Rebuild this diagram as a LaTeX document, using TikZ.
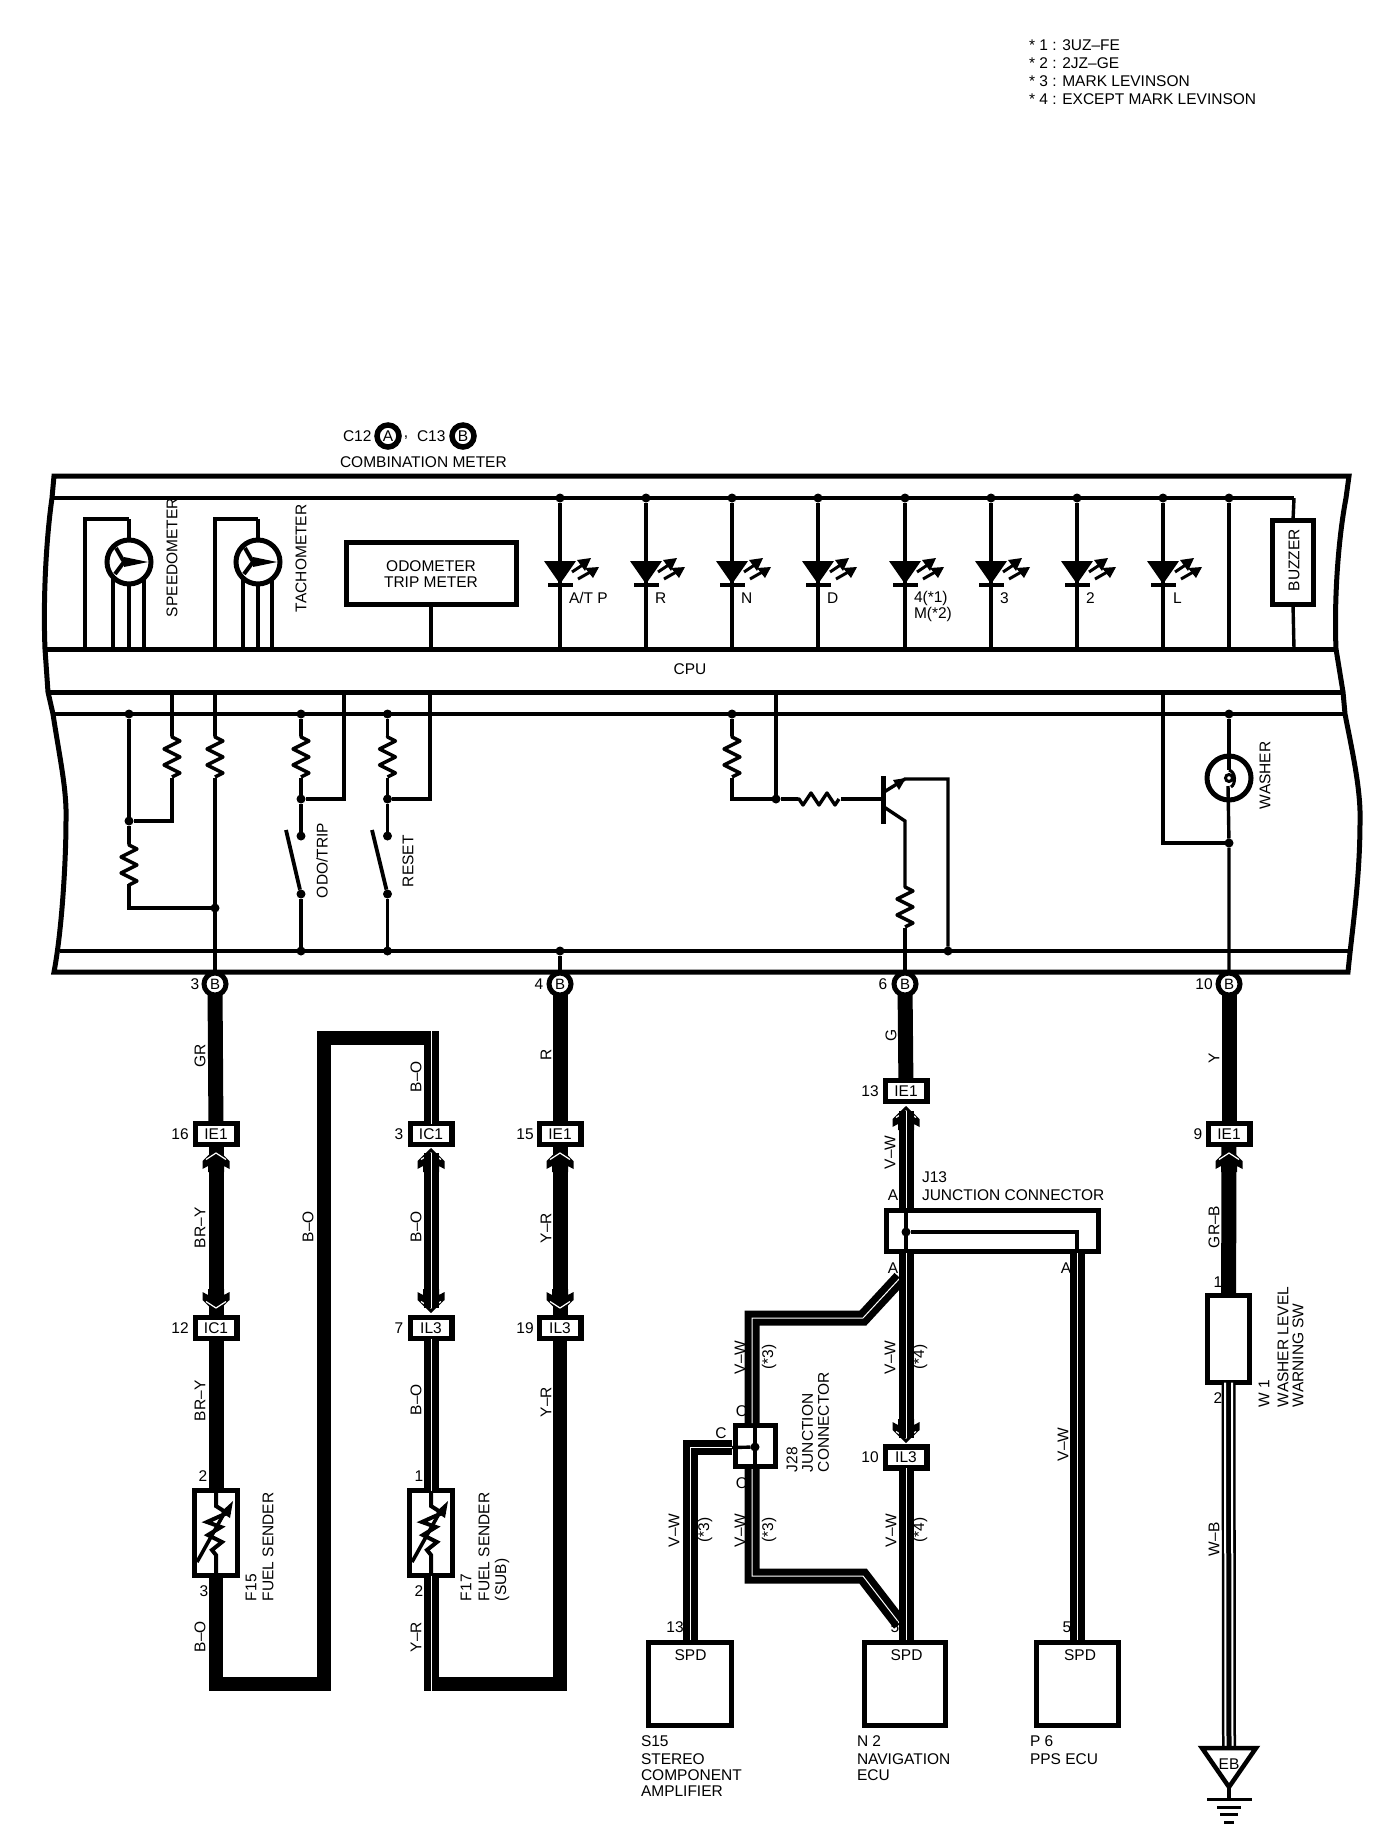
\documentclass[tikz,border=0pt]{standalone}
\usepackage{fontspec}
\setmainfont{Liberation Sans}
\usetikzlibrary{calc}
\newcounter{nn}
\tikzset{
  lab/.style={inner sep=0pt,outer sep=0pt,font=\fontsize{15.5}{17}\selectfont},
  dotn/.style={circle,fill=black,inner sep=0pt,minimum size=9pt,outer sep=0pt},
  thinw/.style={line width=3.4pt,line join=miter},
  solidw/.style={line width=15pt,line join=miter},
  dblw/.style={line width=7pt,double=white,double distance=1pt,line join=miter},
  border/.style={line width=5pt,line join=miter},
  cpubar/.style={line width=5pt},
  conn/.style={draw,fill=white,line width=5.5pt,minimum width=41.5pt,minimum height=21pt,inner sep=0pt,outer sep=0pt,font=\fontsize{15.5}{17}\selectfont},
  pinb/.style={circle,draw,fill=white,line width=5pt,minimum size=22pt,inner sep=0pt,outer sep=0pt,font=\fontsize{15}{16}\selectfont},
  thickbox/.style={draw,fill=white,line width=5pt,inner sep=0pt,outer sep=0pt,font=\fontsize{15.5}{17}\selectfont},
}
\newcommand\Tx[3]{\stepcounter{nn}\node[lab] (t\arabic{nn}) at (#1,#2) {#3};}
\newcommand\Lt[3]{\stepcounter{nn}\node[lab,anchor=west] (t\arabic{nn}) at (#1,#2) {#3};}
\newcommand\Vt[3]{\stepcounter{nn}\node[lab,rotate=90,anchor=west] (t\arabic{nn}) at (#1,#2) {#3};}
\newcommand\Vc[3]{\stepcounter{nn}\node[lab,rotate=90] (t\arabic{nn}) at (#1,#2) {#3};}
\newcommand\Resv[1]{\draw[thinw,line join=round] (#1) -- ++(0,1) -- ++(8,4) -- ++(-16,8) -- ++(16,8) -- ++(-16,8) -- ++(16,8) -- ++(-8,4);}
\newcommand\Resh[1]{\draw[thinw,line join=round] (#1) -- ++(1,0) -- ++(4,6) -- ++(8,-12) -- ++(8,12) -- ++(8,-12) -- ++(8,12) -- ++(4,-6);}
\newcommand\Led[2]{\begin{scope}[shift={(#1,#2)}]
  \fill (-16,0) -- (16,0) -- (0,23) -- cycle;
  \draw[line width=4pt] (-12,23.5) -- (13,23.5);
  \draw[line width=3pt] (12,11) -- (24,3);
  \fill (31,-3) -- (17,-1) -- (25,10) -- cycle;
  \draw[line width=3pt] (18,18) -- (32,10);
  \fill (39,6) -- (25,7) -- (33,17) -- cycle;
\end{scope}}
\newcommand\Meter[1]{\begin{scope}[shift={(#1,562)}]
  \draw[line width=5pt] (0,0) circle (22);
  \draw[line width=4pt] (-13,-14) -- (-5,0) -- (-14,12);
  \fill (-5,-5) -- (19,0) -- (-5,5) -- cycle;
\end{scope}}
\newcommand\Chev[3]{\begin{scope}[shift={(#1,#2)},yscale=#3]
  \fill (0,0) -- (13.5,13) -- (13.5,21) -- (8,18) -- (8,24) -- (-8,24) -- (-8,18) -- (-13.5,21) -- (-13.5,13) -- cycle;
  \draw[white,line width=1.2pt] (-10,11.5) -- (0,5) -- (10,11.5);
\end{scope}}
\newcommand\Sender[1]{\begin{scope}[shift={(#1,1488)}]
  \draw[line width=4pt,line join=miter] (0,2) -- (0,18) -- (11,25) -- (-9,34) -- (5,39) -- (-8,47) -- (6,54) -- (-4,62) -- (0,67) -- (0,88);
  \draw[line width=3.6pt] (-19,74) -- (10,22);
  \fill (17,13) -- (5,24) -- (14,30) -- cycle;
\end{scope}}
\begin{document}
\begin{tikzpicture}[x=1pt,y=-1pt]
\useasboundingbox (0,0) rectangle (1392,1844);
% ----- legend
\Lt{1029}{45}{* 1 : 3UZ–FE}
\Lt{1029}{63}{* 2 : 2JZ–GE}
\Lt{1029}{81}{* 3 : MARK LEVINSON}
\Lt{1029}{99}{* 4 : EXCEPT MARK LEVINSON}
% ----- title
\Lt{343}{436}{C12}
\node[pinb,line width=5.5pt,font=\fontsize{15.5}{17}\selectfont] (hA) at (388,436) {A};
\Tx{406}{438}{,}
\Lt{417}{436}{C13}
\node[pinb,line width=5.5pt,font=\fontsize{15.5}{17}\selectfont] (hB) at (463,436) {B};
\Lt{340}{462}{COMBINATION METER}
% ----- frame
\draw[border] (54,476) -- (52,498) .. controls (46,540) and (43,600) .. (45,649) -- (48,692) -- (53,714) .. controls (60,760) and (67,790) .. (66,821) .. controls (66,860) and (62,930) .. (54,972) -- (1348,972) .. controls (1352,930) and (1360,880) .. (1360,821) .. controls (1361,790) and (1352,750) .. (1345,714) -- (1343,692) -- (1336,649) .. controls (1334,600) and (1338,540) .. (1346,498) -- (1349,476) -- cycle;
% bus rails
\coordinate (tl) at (52,498); \coordinate (tr) at (1294,498);
\coordinate (cl1) at (45,649); \coordinate (cr1) at (1336,649);
\coordinate (cl2) at (48,692); \coordinate (cr2) at (1343,692);
\coordinate (ml) at (53,714); \coordinate (mr) at (1345,714);
\coordinate (bl) at (60,951); \coordinate (br) at (1352,951);
\draw[thinw] (ml) -- (mr);
\draw[thinw] (bl) -- (br);
\draw[cpubar] (cl1) -- (cr1);
\draw[cpubar] (cl2) -- (cr2);
\Tx{690}{669}{CPU}
% ----- meters
\coordinate (sm) at (129,519); \coordinate (sl) at (85,519);
\coordinate (sl0) at (85,649); \coordinate (sc) at (129,649);
\draw[thinw] (sl0) -- (sl) -- (sm);
\draw[line width=4.5pt] (sm) -- (sc);
\coordinate (a1) at (113,575); \coordinate (a2) at (113,649); \draw[thinw] (a1) -- (a2);
\coordinate (a3) at (144,575); \coordinate (a4) at (144,649); \draw[thinw] (a3) -- (a4);
\fill[white] (129,562) circle (20);
\Meter{129}
\coordinate (tm) at (258,519); \coordinate (tl2) at (215,519);
\coordinate (tl0) at (215,649); \coordinate (tc) at (258,649);
\draw[thinw] (tl0) -- (tl2) -- (tm);
\draw[line width=4.5pt] (tm) -- (tc);
\coordinate (b1) at (243,575); \coordinate (b2) at (243,649); \draw[thinw] (b1) -- (b2);
\coordinate (b3) at (272,575); \coordinate (b4) at (272,649); \draw[thinw] (b3) -- (b4);
\fill[white] (258,562) circle (20);
\Meter{258}
\Vt{172}{617}{SPEEDOMETER}
\Vt{301}{612}{TACHOMETER}
% odometer
\node[thickbox,minimum width=170pt,minimum height=62pt,align=center] (odo) at (431,573.5) {};
\Tx{431}{566}{ODOMETER}
\Tx{431}{582}{TRIP METER}
\coordinate (odoc) at (431,649);
\draw[thinw] (odo.south) -- (odoc);
% ----- LEDs
\draw[thinw] (tl) -- (tr);
\foreach \x in {560,646,732,818,905,991,1077,1163,1229}{
  \node[dotn] (u\x) at (\x,498) {};
  \coordinate (v\x) at (\x,649);
  \draw[thinw] (u\x) -- (v\x);
}
\foreach \x in {560,646,732,818,905,991,1077,1163}{\Led{\x}{561}}
\Lt{569}{598}{A/T P}
\Lt{655}{598}{R}
\Lt{741}{598}{N}
\Lt{827}{598}{D}
\Lt{914}{598}{4(*1)}
\Lt{914}{614}{M(*2)}
\Lt{1000}{598}{3}
\Lt{1086}{598}{2}
\Lt{1173}{598}{L}
% buzzer
\node[thickbox,minimum width=41pt,minimum height=84pt] (buz) at (1293,562.5) {};
\Vc{1294}{560}{BUZZER}
\coordinate (bz0) at (1294,649);
\draw[thinw] (tr) -- (buz.north);
\draw[thinw] (buz.south) -- (bz0);
% ----- pins
\foreach \x/\n in {215/3,560/4,905/6,1229/10}{
  \node[pinb] (p\x) at (\x,984) {B};
}
\Tx{195}{984}{3}
\Tx{539}{984}{4}
\Tx{883}{984}{6}
\Tx{1204}{984}{10}
% ----- lower-left network
\node[dotn] (d1) at (129,714) {};
\node[dotn] (d2) at (129,821) {};
\coordinate (r1a) at (129,844); \coordinate (r1b) at (129,884);
\coordinate (n1) at (129,908);
\node[dotn] (d3) at (215,908) {};
\draw[thinw] (d1) -- (d2) -- (r1a);
\Resv{r1a}
\draw[thinw] (r1b) -- (n1) -- (d3);
\coordinate (c1) at (172,692); \coordinate (r2a) at (172,736); \coordinate (r2b) at (172,778); \coordinate (c2) at (172,821);
\draw[thinw] (c1) -- (r2a);
\Resv{r2a}
\draw[thinw] (r2b) -- (c2) -- (d2);
\coordinate (c3) at (215,692); \coordinate (r3a) at (215,736); \coordinate (r3b) at (215,778);
\draw[thinw] (c3) -- (r3a);
\Resv{r3a}
\draw[thinw] (r3b) -- (p215);
% ODO/TRIP
\node[dotn] (d4) at (301,714) {};
\coordinate (r4a) at (301,736); \coordinate (r4b) at (301,778);
\node[dotn] (d5) at (301,799) {};
\coordinate (c4) at (344,799); \coordinate (c5) at (344,692);
\node[dotn] (s1) at (301,836) {};
\node[dotn] (s2) at (301,894) {};
\node[dotn] (d6) at (301,951) {};
\coordinate (bl1) at (286,830);
\draw[thinw] (d4) -- (r4a);
\Resv{r4a}
\draw[thinw] (r4b) -- (d5) -- (s1);
\draw[thinw] (d5) -- (c4) -- (c5);
\draw[line width=3.8pt] (bl1) -- (s2);
\draw[thinw] (s2) -- (d6);
\Vt{322}{898}{ODO/TRIP}
% RESET
\node[dotn] (d7) at (387.5,714) {};
\coordinate (r5a) at (387.5,736); \coordinate (r5b) at (387.5,778);
\node[dotn] (d8) at (387.5,799) {};
\coordinate (c6) at (430,799); \coordinate (c7) at (430,692);
\node[dotn] (s3) at (387.5,836) {};
\node[dotn] (s4) at (387.5,894) {};
\node[dotn] (d9) at (387.5,951) {};
\coordinate (bl2) at (372,830);
\draw[thinw] (d7) -- (r5a);
\Resv{r5a}
\draw[thinw] (r5b) -- (d8) -- (s3);
\draw[thinw] (d8) -- (c6) -- (c7);
\draw[line width=3.8pt] (bl2) -- (s4);
\draw[thinw] (s4) -- (d9);
\Vt{408}{887}{RESET}
% pin 4 tie
\node[dotn] (d10) at (560,951) {};
\draw[thinw] (d10) -- (p560);
% ----- transistor network
\node[dotn] (d11) at (732,714) {};
\coordinate (r6a) at (732,736); \coordinate (r6b) at (732,778);
\coordinate (c8) at (732,799);
\node[dotn] (d12) at (776,799) {};
\coordinate (c9) at (776,692);
\coordinate (r7a) at (798,799); \coordinate (r7b) at (841,799);
\coordinate (base) at (883,799);
\draw[thinw] (d11) -- (r6a);
\Resv{r6a}
\draw[thinw] (r6b) -- (c8) -- (d12);
\draw[thinw] (c9) -- (d12) -- (r7a);
\Resh{r7a}
\draw[thinw] (r7b) -- (base);
\draw[line width=5pt] (883,776) -- (883,824);
\coordinate (col1) at (884,807); \coordinate (col2) at (905,821);
\coordinate (r8a) at (905,886); \coordinate (r8b) at (905,928);
\draw[thinw] (col1) -- (col2) -- (r8a);
\Resv{r8a}
\draw[thinw] (r8b) -- (p905);
\coordinate (em1) at (884,792); \coordinate (em2) at (905,779); \coordinate (em3) at (948,779);
\node[dotn] (d13) at (948,951) {};
\draw[thinw] (em1) -- (em2) -- (em3) -- (d13);
\fill (906,778) -- (893,780) -- (899,790) -- cycle;
% ----- washer
\node[dotn] (d14) at (1229,714) {};
\node[dotn] (d15) at (1229,843) {};
\coordinate (c10) at (1163,692); \coordinate (c11) at (1163,843);
\draw[thinw] (d14) -- (1229,770);
\draw[thinw] (1228,786) -- (d15) -- (p1229);
\draw[thinw] (c10) -- (c11) -- (d15);
\draw[line width=5pt] (1229,778) circle (22);
\draw[line width=3pt] (1229,778) circle (3.5);
\draw[line width=3pt] (1229,770) .. controls (1236,772) and (1236,784) .. (1231,787);
\Vt{1265}{809}{WASHER}
% ----- harness connectors
\foreach \nm/\x/\y/\tt in {ie16/216/1134/IE1,ic12/216/1328/IC1,ic3/431/1134/IC1,il7/431/1328/IL3,ie15/560/1134/IE1,il19/560/1328/IL3,ie13/906/1091/IE1,il10/906/1457.5/IL3,ie9/1229/1134/IE1}{
  \node[conn] (\nm) at (\x,\y) {\tt};
}
\Tx{180}{1134}{16}
\Tx{180}{1328}{12}
\Tx{399}{1134}{3}
\Tx{399}{1328}{7}
\Tx{525}{1134}{15}
\Tx{525}{1328}{19}
\Tx{870}{1091}{13}
\Tx{870}{1457}{10}
\Tx{1198}{1134}{9}
% senders
\node[thickbox,minimum width=43pt,minimum height=85pt] (f15) at (216,1533) {};
\node[thickbox,minimum width=43pt,minimum height=85pt] (f17) at (431,1533) {};
% solid wires
\draw[solidw] (p215) -- (ie16);
\draw[solidw] (ie16) -- (ic12);
\draw[solidw] (ic12) -- (f15);
\coordinate (q1) at (216,1684); \coordinate (q2) at (324,1684); \coordinate (q3) at (324,1037.5); \coordinate (q4) at (438.5,1037.5);
\coordinate (q5) at (424,1684); \coordinate (q6) at (560,1684);
\draw[line width=14pt,line join=miter] (f15) -- ($(q1)+(0,0)$);
\draw[line width=14pt,line join=miter] (209,1684) -- (q2) -- (q3) -- (q4);
\draw[line width=14pt,line join=miter] (q5) -- (q6) -- (il19);
\draw[solidw] (il19) -- (ie15);
\draw[solidw] (ie15) -- (p560);
\draw[solidw] (p905) -- (ie13);
\draw[solidw] (p1229) -- (ie9);
\node[thickbox,minimum width=42pt,minimum height=87pt] (w1b) at (1228.5,1339) {};
\draw[solidw] (ie9) -- (w1b);
% chevrons
\Chev{216}{1148}{1}\Chev{216}{1313}{-1}
\Chev{431}{1148}{1}\Chev{431}{1313}{-1}
\Chev{560}{1148}{1}\Chev{560}{1313}{-1}
\Chev{906}{1106}{1}\Chev{906}{1443}{-1}
\Chev{1229}{1148}{1}
% sender symbols
\Sender{216}
\Sender{431}
% double wires left
\coordinate (q4b) at (431,1031); \coordinate (q5b) at (431,1691);
\coordinate (chu3) at (431,1153); \coordinate (chd7) at (431,1308);
\draw[dblw] (q4b) -- (ic3);
\draw[dblw] (chu3) -- (chd7);
\draw[dblw] (il7) -- (f17);
\draw[dblw] (f17) -- (q5b);
% ----- junctions
\node[thickbox,minimum width=212pt,minimum height=41pt] (j13) at (992,1230.5) {};
\node[thickbox,minimum width=40pt,minimum height=41pt] (j28) at (755,1446) {};
\node[thickbox,minimum width=83pt,minimum height=83pt] (s15) at (690,1684) {};
\node[thickbox,minimum width=81pt,minimum height=83pt] (n2) at (905,1684) {};
\node[thickbox,minimum width=82pt,minimum height=83pt] (p6) at (1077.5,1684) {};
\coordinate (j1) at (906,1208); \coordinate (j2) at (906,1253);
\coordinate (j3) at (1077,1253); \coordinate (chu13) at (906,1111);
\coordinate (chd10) at (906,1438);
\coordinate (k1) at (900,1278); \coordinate (k2) at (863,1318); \coordinate (k3) at (752,1318); \coordinate (k4) at (752,1423);
\coordinate (k5) at (752,1469); \coordinate (k6) at (752,1576); \coordinate (k7) at (863,1576); \coordinate (k8) at (900,1624);
\coordinate (k9) at (732,1447.5); \coordinate (k10) at (690,1447.5); \coordinate (k11) at (690,1640);
\coordinate (k12) at (906,1640); \coordinate (k13) at (1077,1640);
\draw[dblw] (k1) -- (k2) -- (k3) -- (k4);
\draw[dblw] (k5) -- (k6) -- (k7) -- (k8);
\draw[dblw] (k9) -- (k10) -- (k11);
\draw[dblw] (chu13) -- (j1);
\draw[dblw] (j2) -- (chd10);
\draw[dblw] (il10) -- (k12);
\draw[dblw] (j3) -- (k13);
% J13 inner
\node[dotn] (jd) at (906,1232) {};
\coordinate (j4) at (1077,1232);
\draw[thinw] (j1) -- (j2);
\draw[thinw] (jd) -- (j4) -- (j3);
% J28 inner
\node[dotn] (kd) at (755,1447) {};
\coordinate (k4b) at (755,1423); \coordinate (k5b) at (755,1469);
\draw[line width=4pt] (k4b) -- (k5b);
\draw[thinw] (k9) -- (kd);
% W-B
\coordinate (ebt) at (1229,1748);
\draw[line width=14pt] (w1b) -- (ebt);
\draw[white,line width=2pt] ([xshift=-3.5pt]w1b.south) -- ([xshift=-3.5pt]ebt);
\draw[white,line width=2pt] ([xshift=3.5pt]w1b.south) -- ([xshift=3.5pt]ebt);
% ground
\coordinate (e1) at (1202,1748); \coordinate (e2) at (1256,1748); \coordinate (e3) at (1229,1787);
\coordinate (g0) at (1229,1799);
\draw[line width=4.5pt,fill=white,line join=miter] (e1) -- (e2) -- (e3) -- cycle;
\draw[thinw] (e3) -- (g0);
\draw[line width=3pt] (1207,1799) -- (1252,1799);
\draw[line width=3pt] (1217,1807) -- (1241,1807);
\draw[line width=3pt] (1220,1814) -- (1238,1814);
\draw[line width=3pt] (1224,1822) -- (1234,1822);
\Tx{1229}{1764}{EB}
% ----- harness labels
\Vc{200}{1056}{GR}
\Vt{200}{1248}{BR–Y}
\Vt{200}{1421}{BR–Y}
\Vt{200}{1652}{B–O}
\Vt{308}{1242}{B–O}
\Vt{416}{1092}{B–O}
\Vt{416}{1242}{B–O}
\Vt{416}{1415}{B–O}
\Vt{416}{1652}{Y–R}
\Vc{546}{1055}{R}
\Vt{546}{1243}{Y–R}
\Vt{546}{1417}{Y–R}
\Vc{891}{1035}{G}
\Vc{1214}{1058}{Y}
\Vt{1214}{1248}{GR–B}
\Vt{1214}{1556}{W–B}
\Tx{203}{1476}{2}
\Tx{204}{1591}{3}
\Tx{419}{1476}{1}
\Tx{419}{1591}{2}
\Vt{251}{1601}{F15}
\Vt{268}{1601}{FUEL SENDER}
\Vt{466}{1601}{F17}
\Vt{484}{1601}{FUEL SENDER}
\Vt{502}{1601}{(SUB)}
\Tx{1218}{1282}{1}
\Tx{1218}{1398}{2}
\Vt{1264}{1407}{W 1}
\Vt{1283}{1407}{WASHER LEVEL}
\Vt{1298}{1407}{WARNING SW}
% middle labels
\Vt{890}{1169}{V–W}
\Lt{922}{1177}{J13}
\Lt{922}{1195}{JUNCTION CONNECTOR}
\Tx{893}{1195}{A}
\Tx{893}{1268}{A}
\Tx{1066}{1268}{A}
\Vt{740}{1374}{V–W}
\Vc{769}{1357}{(*3)}
\Vt{890}{1374}{V–W}
\Vc{920}{1357}{(*4)}
\Vt{1063}{1461}{V–W}
\Tx{742}{1411}{O}
\Tx{721}{1433}{C}
\Tx{742}{1483}{O}
\Vt{792}{1472}{J28}
\Vt{807.5}{1472}{JUNCTION}
\Vt{823.5}{1472}{CONNECTOR}
\Vt{674}{1547}{V–W}
\Vc{705}{1530}{(*3)}
\Vt{740}{1547}{V–W}
\Vc{769}{1530}{(*3)}
\Vt{891}{1547}{V–W}
\Vc{920}{1530}{(*4)}
\Tx{675}{1627}{13}
\Tx{895}{1627}{5}
\Tx{1067}{1627}{5}
\Tx{690.5}{1655}{SPD}
\Tx{906.5}{1655}{SPD}
\Tx{1080}{1655}{SPD}
\Lt{641}{1741}{S15}
\Lt{641}{1759}{STEREO}
\Lt{641}{1775}{COMPONENT}
\Lt{641}{1791}{AMPLIFIER}
\Lt{857}{1741}{N 2}
\Lt{857}{1759}{NAVIGATION}
\Lt{857}{1775}{ECU}
\Lt{1030}{1741}{P 6}
\Lt{1030}{1759}{PPS ECU}
\end{tikzpicture}
\end{document}
